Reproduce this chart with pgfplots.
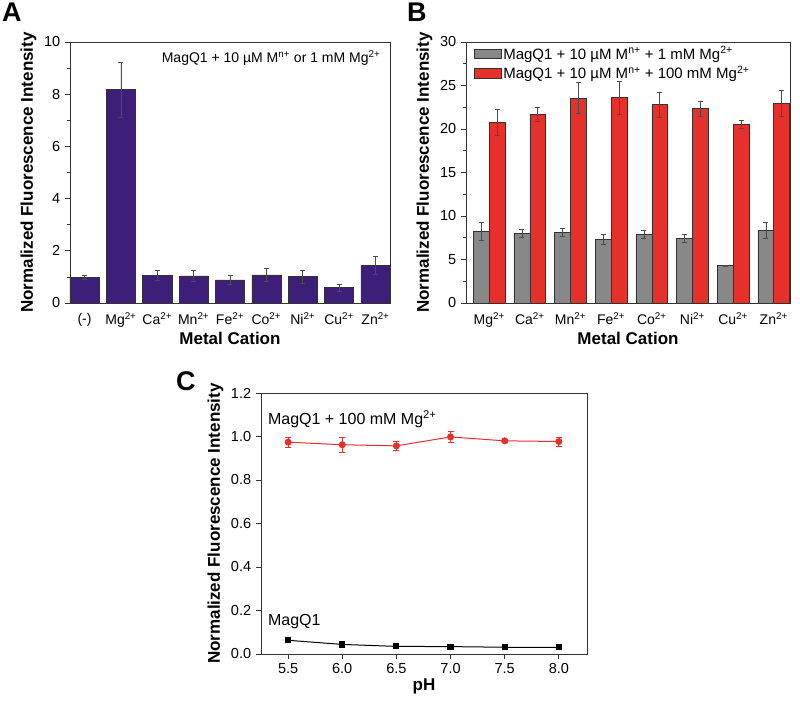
\documentclass[border=0pt]{standalone}
\usepackage{pgfplots}
\pgfplotsset{compat=1.18}
\usepackage{fontspec}
\setmainfont{Liberation Sans}
\definecolor{barpurple}{HTML}{3D1F7A}
\definecolor{bargray}{HTML}{888888}
\definecolor{barred}{HTML}{E5302B}
\pgfplotstableread{
x y e
0 0.99 0.07
1 8.18 1.06
2 1.07 0.19
3 1.04 0.21
4 0.89 0.18
5 1.08 0.24
6 1.02 0.25
7 0.60 0.13
8 1.44 0.34
}\tabA
\pgfplotstableread{
x g ge r re
0 8.24 1.07 20.77 1.45
1 7.97 0.46 21.69 0.84
2 8.08 0.46 23.56 1.80
3 7.32 0.53 23.60 1.95
4 7.89 0.46 22.83 1.42
5 7.47 0.46 22.34 0.84
6 4.29 0.10 20.54 0.46
7 8.35 0.92 22.95 1.50
}\tabB
\pgfplotstableread{
x r re b
5.5 0.974 0.023 0.063
6.0 0.962 0.036 0.044
6.5 0.957 0.021 0.035
7.0 0.998 0.025 0.034
7.5 0.980 0.008 0.031
8.0 0.977 0.021 0.031
}\tabC
\newcommand{\sq}[1]{\textsuperscript{#1}}
\begin{document}
\fontsize{14}{16}\selectfont
\begin{tikzpicture}
\path (0pt,0pt) rectangle (800pt,701pt);
\pgfplotsset{
  every axis/.append style={
    scale only axis,
    /pgf/number format/assume math mode=true,
    tick label style={font=\fontsize{14.5}{16}\selectfont},
    label style={font=\bfseries\fontsize{17}{19}\selectfont},
    axis line style={line width=0.9pt, black!80},
    tick style={black!80, line width=0.7pt},
    tick align=outside,
    ytick pos=left,
    xtick pos=bottom,
    major tick length=5pt,
    minor tick length=3pt,
  },
}
% Panel A
\node[font=\bfseries\fontsize{27}{29}\selectfont, anchor=north west, inner sep=0pt] at (2pt,698pt) {A};
\begin{axis}[at={(70pt,398pt)}, anchor=south west, width=320pt, height=261pt,
  ymin=0, ymax=10, ytick={0,2,...,10}, minor y tick num=1,
  xmin=-0.4, xmax=8.4, xtick={0,...,8}, major x tick style={draw=none},
  xticklabels={(-),Mg\sq{2+},Ca\sq{2+},Mn\sq{2+},Fe\sq{2+},Co\sq{2+},Ni\sq{2+},Cu\sq{2+},Zn\sq{2+}},
  xticklabel style={font=\fontsize{14}{16}\selectfont},
  xlabel={Metal Cation}, ylabel={Normalized Fluorescence Intensity},
  ylabel style={yshift=-2pt}, xlabel style={yshift=5pt},
  ]
\addplot[ybar, bar width=0.8, fill=barpurple, draw=black!80, line width=0.5pt,
  error bars/.cd, y dir=both, y explicit, error bar style={black!70, line width=0.6pt},
  error mark options={rotate=90, mark size=2.5pt, black!70}]
  table[x=x, y=y, y error=e] {\tabA};
\node[anchor=north east, font=\fontsize{14}{16}\selectfont] at (rel axis cs:0.985,0.985) {MagQ1 + 10 \textmu M M\sq{n+} or 1 mM Mg\sq{2+}};
\end{axis}
% Panel B
\node[font=\bfseries\fontsize{27}{29}\selectfont, anchor=north west, inner sep=0pt] at (407pt,698pt) {B};
\begin{axis}[at={(466pt,398pt)}, anchor=south west, width=324pt, height=261pt,
  ybar=0pt, bar width=0.39,
  ymin=0, ymax=30, ytick={0,5,...,30}, minor y tick num=1,
  xmin=-0.57, xmax=7.4, xtick={0,...,7}, major x tick style={draw=none},
  xticklabels={Mg\sq{2+},Ca\sq{2+},Mn\sq{2+},Fe\sq{2+},Co\sq{2+},Ni\sq{2+},Cu\sq{2+},Zn\sq{2+}},
  xticklabel style={font=\fontsize{14}{16}\selectfont},
  xlabel={Metal Cation}, ylabel={Normalized Fluorescence Intensity},
  ylabel style={yshift=-2pt}, xlabel style={yshift=5pt},
  legend cell align=left,
  legend style={at={(0.02,0.995)}, anchor=north west, draw=none, fill=none,
    font=\fontsize{15}{17}\selectfont, row sep=1pt, inner sep=1pt},
  legend image code/.code={\draw[#1, line width=0.6pt] (0cm,-0.17cm) rectangle (0.95cm,0.17cm);},
  ]
\addplot[fill=bargray, draw=black!80, line width=0.5pt,
  error bars/.cd, y dir=both, y explicit, error bar style={black!70, line width=0.6pt},
  error mark options={rotate=90, mark size=2.5pt, black!70}]
  table[x=x, y=g, y error=ge] {\tabB};
\addlegendentry{MagQ1 + 10 \textmu M M\sq{n+} + 1 mM Mg\sq{2+}}
\addplot[fill=barred, draw=black!80, line width=0.5pt,
  error bars/.cd, y dir=both, y explicit, error bar style={black!70, line width=0.6pt},
  error mark options={rotate=90, mark size=2.5pt, black!70}]
  table[x=x, y=r, y error=re] {\tabB};
\addlegendentry{MagQ1 + 10 \textmu M M\sq{n+} + 100 mM Mg\sq{2+}}
\end{axis}
% Panel C
\node[font=\bfseries\fontsize{27}{29}\selectfont, anchor=north west, inner sep=0pt] at (176pt,330pt) {C};
\begin{axis}[at={(261pt,47pt)}, anchor=south west, width=326pt, height=261pt,
  ymin=0, ymax=1.2, ytick={0,0.2,...,1.2},
  yticklabel style={/pgf/number format/.cd, fixed, fixed zerofill, precision=1},
  xticklabel style={/pgf/number format/.cd, fixed, fixed zerofill, precision=1},
  xmin=5.25, xmax=8.26, xtick={5.5,6,...,8},
  xlabel={pH}, ylabel={Normalized Fluorescence Intensity},
  ylabel style={yshift=-2pt}, xlabel style={yshift=5pt},
  ]
\addplot[barred, line width=1pt, mark=*, mark size=3pt, mark options={fill=barred, draw=barred},
  error bars/.cd, y dir=both, y explicit, error bar style={barred, line width=0.8pt},
  error mark options={rotate=90, mark size=3pt, barred}]
  table[x=x, y=r, y error=re] {\tabC};
\addplot[black, line width=1pt, mark=square*, mark size=2.6pt, mark options={fill=black}]
  table[x=x, y=b] {\tabC};
\node[anchor=west, font=\fontsize{16}{18}\selectfont] at (axis cs:5.27,1.08) {MagQ1 + 100 mM Mg\sq{2+}};
\node[anchor=west, font=\fontsize{16}{18}\selectfont] at (axis cs:5.27,0.148) {MagQ1};
\end{axis}
\end{tikzpicture}
\end{document}
